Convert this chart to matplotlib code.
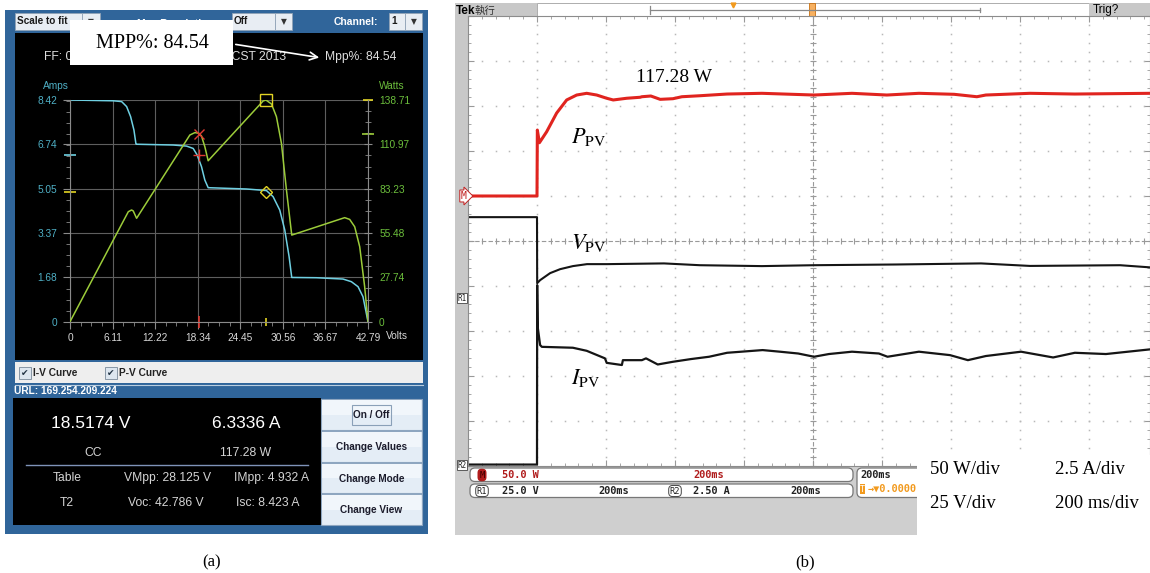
import numpy as np
import matplotlib.pyplot as plt
from matplotlib.patches import Rectangle, FancyBboxPatch
from matplotlib.ticker import AutoMinorLocator, MultipleLocator
from matplotlib.transforms import blended_transform_factory

plt.rcParams['font.family'] = ['Liberation Sans', 'DejaVu Sans']
plt.rcParams['mathtext.fontset'] = 'stix'

W, H = 1150, 573

# ---------------- panel (a): simulator screen values ----------------
iv_volts = [0, 6.22, 7.41, 8.13, 8.70, 9.18, 9.47, 9.56, 14.82, 16.73, 17.69, 18.26, 18.88, 19.36,
            19.84, 25.34, 28.21, 29.16, 30.12, 30.84, 31.46, 31.84, 35.38, 39.2, 40.4, 41.36, 42.07, 42.79]
iv_amps = [8.42, 8.39, 8.36, 8.17, 7.79, 7.28, 6.75, 6.74, 6.71, 6.67, 6.58, 6.33, 5.89, 5.38,
           5.09, 5.04, 4.98, 4.75, 4.24, 3.48, 2.47, 1.68, 1.67, 1.62, 1.52, 1.33, 0.95, 0]
pv_volts = [0, 8.37, 8.84, 9.08, 9.56, 17.21, 17.93, 18.5, 18.88, 19.36, 19.84, 27.73, 28.13,
            28.93, 29.64, 30.36, 31.08, 31.84, 39.44, 40.16, 40.88, 41.6, 42.31, 42.79]
pv_watts = [0, 68.8, 69.9, 69.3, 64.7, 116.8, 118.3, 117.9, 116.2, 109.5, 100.7, 138.1, 138.71,
            136.2, 128.3, 111.6, 82.4, 54.2, 65.1, 64.0, 59.4, 46.9, 21.9, 0]

volt_ticks = [0, 6.11, 12.22, 18.34, 24.45, 30.56, 36.67, 42.79]
amp_ticks = [0, 1.68, 3.37, 5.05, 6.74, 8.42]
watt_ticks = [0, 27.74, 55.48, 83.23, 110.97, 138.71]

v_op, i_op, p_op = 18.5174, 6.3336, 117.28
vmpp, impp, pmpp = 28.125, 4.932, 138.71
voc, isc = 42.786, 8.423
mpp_pct = 84.54

# ---------------- panel (b): scope traces ----------------
p_ms = [0, 200, 201, 207, 228, 257, 286, 315, 344, 373, 402, 421, 460, 499, 504, 530, 557, 594,
        620, 672, 751, 852, 1003, 1113, 1214, 1307, 1409, 1475, 1501, 1629, 1759, 1977]
p_w = [0, 0, 73.3, 59.2, 71.4, 92.2, 106.7, 112.2, 114.1, 112.2, 108.6, 106.7, 108.6, 109.7, 110.3,
       111.1, 107.4, 108.1, 110.3, 111.4, 113.3, 114.1, 112.2, 114.1, 112.2, 114.1, 113.0, 110.3,
       112.2, 114.1, 113.3, 114.1]

v_ms = [0, 200, 200.5, 209, 238, 267, 304, 345, 403, 568, 672, 852, 1003, 1241, 1487, 1629, 1890, 1977]
v_volts = [45, 45, 8.3, 10, 13.9, 16.1, 17.8, 18.9, 18.9, 19.3, 18.3, 17.8, 18.3, 18.7, 19.3, 17.9, 18.3, 17.1]

i_ms = [0, 200, 200.5, 202, 209, 214, 304, 344, 397, 402, 446, 449, 504, 516, 550, 594, 646, 699,
        751, 854, 904, 957, 1003, 1046, 1113, 1191, 1216, 1307, 1397, 1449, 1501, 1603, 1696, 1759, 1849, 1977]
i_amps = [0.03, 0.03, 10.0, 7.68, 6.67, 6.57, 6.52, 6.35, 5.93, 5.68, 5.56, 5.83, 5.83, 5.93, 5.59,
          5.74, 5.89, 6.02, 6.24, 6.39, 6.30, 6.20, 6.02, 6.17, 6.30, 6.20, 6.02, 6.30, 6.11, 5.83,
          6.06, 6.30, 5.98, 6.24, 6.17, 6.43]

ms_per_div, w_per_div, v_per_div, a_per_div = 200, 50.0, 25.0, 2.5
m_pos, r1_pos, r2_pos = 1.0, -1.27, -4.98   # channel ground markers (divisions)

cyan = '#6fd0e2'
green = '#9ccc3a'
yel = '#e2d424'
red_a = '#e23a32'
blue = '#30659a'


def box(ax, x0, y0, x1, y1, **kw):
    ax.add_patch(Rectangle((x0, y0), x1 - x0, y1 - y0, **kw))


fig = plt.figure(figsize=(W / 100, H / 100), dpi=100)
bg = fig.add_axes([0, 0, 1, 1])
bg.set_xlim(0, W)
bg.set_ylim(H, 0)
bg.axis('off')

# ---- simulator window
box(bg, 5, 10, 428, 534, fc=blue, ec='none')
box(bg, 15, 33, 423, 360, fc='black', ec='none')
box(bg, 15, 362, 423, 383, fc='#eeeeee', ec='none')
bg.plot([15, 423], [384.5, 384.5], color='#b8cde0', lw=0.8)
box(bg, 13, 398, 321, 525, fc='black', ec='none')


def combo(x0, x1, xa, label):
    box(bg, x0, 13, x1, 30, fc='#e8edf3', ec='#90a2b6', lw=0.6)
    box(bg, x1, 13, xa, 30, fc='#e8edf3', ec='#90a2b6', lw=0.6)
    bg.text(x0 + 2, 21.5, label, fontsize=7.2, fontweight='bold', va='center', color='#1a1a1a')
    bg.text((x1 + xa) / 2, 21.5, '\u25bc', fontsize=5.5, ha='center', va='center',
            color='#333333', family='DejaVu Sans')


combo(15, 82, 100, 'Scale to fit')
combo(232, 275, 292, 'Off')
combo(389, 405, 422, '1')
bg.text(137, 24, 'Max Resolution:', fontsize=7.5, fontweight='bold', color='white', va='center')
bg.text(378, 22, 'Channel:', fontsize=7.5, fontweight='bold', color='white', va='center', ha='right')

bg.text(44, 57, 'FF: 0.71', color='#dddddd', fontsize=8.7, va='center')
bg.text(286, 57, 'Mon Jun 03 10:21:43 CST 2013', color='#dddddd', fontsize=8.7, va='center', ha='right')
bg.text(325, 57, f'Mpp%: {mpp_pct:.2f}', color='#dddddd', fontsize=8.7, va='center')
bg.annotate('', xy=(322, 58), xytext=(233, 44),
            arrowprops=dict(arrowstyle='->', color='white', lw=1.2, mutation_scale=14))
bg.text(56, 86, 'Amps', color='#4fb0c6', fontsize=7.3, ha='center', va='center')
bg.text(392, 86, 'Watts', color='#6cbf3c', fontsize=7.3, ha='center', va='center')
bg.text(386, 336, 'Volts', color='#d8d8d8', fontsize=7.3, va='center')

for x0, lab in [(19, 'I-V Curve'), (105, 'P-V Curve')]:
    box(bg, x0, 367, x0 + 12, 379, fc='#dde6ef', ec='#7a8a9a', lw=0.6)
    bg.text(x0 + 6, 373.5, '\u2714', fontsize=6.5, ha='center', va='center', color='#223344',
            family='DejaVu Sans')
    bg.text(x0 + 14, 373, lab, fontsize=7.3, fontweight='bold', va='center', color='#222222')

bg.text(14, 391, 'URL: 169.254.209.224', color='white', fontweight='bold', fontsize=7.3, va='center')

bg.text(91, 424, f'{v_op:.4f} V', color='white', fontsize=12.5, ha='center', va='center')
bg.text(246, 424, f'{i_op:.4f} A', color='white', fontsize=12.5, ha='center', va='center')
info = [(93, 453, 'CC'), (246, 453, f'{p_op:.2f} W'),
        (67, 478, 'Table'), (168, 478, f'VMpp: {vmpp:.3f} V'), (272, 478, f'IMpp: {impp:.3f} A'),
        (67, 503, 'T2'), (166, 503, f'Voc: {voc:.3f} V'), (268, 503, f'Isc: {isc:.3f} A')]
for x, y, s in info:
    bg.text(x, y, s, color='#d4d4d4', fontsize=8.7, ha='center', va='center')
bg.plot([26, 308], [465, 465], color='#7f93b8', lw=1)

for y0, y1, lab in [(399, 430, 'On / Off'), (431, 462, 'Change Values'),
                    (463, 493, 'Change Mode'), (494, 525, 'Change View')]:
    box(bg, 321, y0, 422, y1, fc='#e4edf6', ec='#8ea6c0', lw=0.8)
    box(bg, 322, y0 + 1, 421, (y0 + y1) / 2, fc='#f1f6fb', ec='none')
    bg.text(371.5, (y0 + y1) / 2 + 0.5, lab, fontsize=7.2, fontweight='bold', ha='center',
            va='center', color='#1c1c2c')
box(bg, 352, 405, 391, 425, fc='none', ec='#8aa0b8', lw=0.8)

# ---- scope frame
box(bg, 455, 3, 468, 535, fc='#c8c8c8', ec='none')
box(bg, 455, 466, 1150, 535, fc='#cfcfcf', ec='none')
box(bg, 455, 3, 537, 17, fc='#c8c8c8', ec='none')
box(bg, 537, 3, 1089, 17, fc='white', ec='#a0a0a0', lw=0.6)
box(bg, 1089, 3, 1150, 17, fc='#c8c8c8', ec='none')
bg.text(456, 10.5, 'Tek', fontweight='bold', fontsize=8.5, va='center')
bg.text(475, 10.5, '\u57f7\u884c', family=['Noto Sans CJK TC', 'DejaVu Sans'], fontsize=7.5,
        va='center', color='#333333')
bg.plot([650, 980], [10, 10], color='#888888', lw=0.9)
bg.plot([650, 650], [6, 14], color='#888888', lw=0.9)
bg.plot([980, 980], [8, 12], color='#888888', lw=0.9)
bg.plot(733, 5, marker='v', color='#f29a1e', ms=3.5)
box(bg, 809, 3, 815, 17, fc='#f7b060', ec='#c87010', lw=0.6)
bg.plot(812, 19, marker='v', color='#f29a1e', ms=3.5)
bg.text(1093, 10.5, 'Trig?', fontsize=8.5, va='center')
box(bg, 1145, 20, 1150, 30, fc='#f29a1e', ec='none')

mono = 'DejaVu Sans Mono'
rd = dict(fontsize=7.4, va='center', family=mono, fontweight='bold')
for y0 in (468, 484):
    bg.add_patch(FancyBboxPatch((470, y0), 383, 13.5, boxstyle='round,pad=0,rounding_size=5',
                                fc='white', ec='#777777', lw=0.9))
bg.add_patch(FancyBboxPatch((857, 468), 110, 29.5, boxstyle='round,pad=0,rounding_size=5',
                            fc='white', ec='#777777', lw=0.9))
bg.text(482, 475, 'M', color='#3a0000', ha='center', fontsize=6.5, va='center', family=mono,
        bbox=dict(boxstyle='round,pad=0.2,rounding_size=0.45', fc='#b01c1c', ec='none'))
bg.text(502, 475, f'{w_per_div:.1f} W', color='#b01c1c', **rd)
bg.text(693, 475, f'{ms_per_div}ms', color='#b01c1c', **rd)
bg.text(482, 491, 'R1', color='#222222', ha='center', fontsize=6.3, va='center', family=mono,
        bbox=dict(boxstyle='round,pad=0.12,rounding_size=0.45', fc='white', ec='#444444', lw=0.7))
bg.text(502, 491, f'{v_per_div:.1f} V', color='#222222', **rd)
bg.text(598, 491, f'{ms_per_div}ms', color='#222222', **rd)
bg.text(675, 491, 'R2', color='#222222', ha='center', fontsize=6.3, va='center', family=mono,
        bbox=dict(boxstyle='round,pad=0.12,rounding_size=0.45', fc='white', ec='#444444', lw=0.7))
bg.text(693, 491, f'{a_per_div:.2f} A', color='#222222', **rd)
bg.text(790, 491, f'{ms_per_div}ms', color='#222222', **rd)
bg.text(860, 475, f'{ms_per_div}ms', color='#222222', **rd)
bg.text(860, 489, 'T', fontsize=6, color='white', va='center', family=mono,
        bbox=dict(boxstyle='square,pad=0.05', fc='#f29a1e', ec='none'))
bg.text(868, 489, '\u2192\u25bc0.0000', color='#f29a1e', **rd)

# ---- panel (a) curves
ax_iv = fig.add_axes([70 / W, 1 - 321.7 / H, 298 / W, 221.7 / H])
ax_iv.patch.set_visible(False)
ax_iv.set_xlim(0, volt_ticks[-1])
ax_iv.set_ylim(0, amp_ticks[-1])
ax_iv.set_xticks(volt_ticks, [f'{v:g}' for v in volt_ticks])
ax_iv.set_yticks(amp_ticks, [f'{v:g}' for v in amp_ticks])
ax_iv.xaxis.set_minor_locator(AutoMinorLocator(4))
ax_iv.yaxis.set_minor_locator(AutoMinorLocator(4))
ax_iv.grid(True, color='#5e5e5e', lw=0.8)
for s in ['top', 'right']:
    ax_iv.spines[s].set_visible(False)
for s in ['left', 'bottom']:
    ax_iv.spines[s].set_color('#8a8a8a')
ax_iv.tick_params(axis='y', which='both', direction='out', color='#8a8a8a', labelcolor='#4fb0c6',
                  labelsize=7.3, pad=4)
ax_iv.tick_params(axis='x', which='both', direction='out', color='#8a8a8a', labelcolor='#d8d8d8',
                  labelsize=7.3, pad=3)
ax_iv.tick_params(which='major', length=5)
ax_iv.tick_params(which='minor', length=3)

ax_p = ax_iv.twinx()
ax_p.set_ylim(0, watt_ticks[-1])
ax_p.set_yticks(watt_ticks, [f'{v:g}' for v in watt_ticks])
ax_p.yaxis.set_minor_locator(AutoMinorLocator(4))
for s in ['top', 'left', 'bottom']:
    ax_p.spines[s].set_visible(False)
ax_p.spines['right'].set_color('#8a8a8a')
ax_p.tick_params(axis='y', which='both', direction='inout', color='#8a8a8a', labelcolor='#6cbf3c',
                 labelsize=7.3, pad=5)
ax_p.tick_params(which='major', length=6)
ax_p.tick_params(which='minor', length=4)

ax_iv.plot(iv_volts, iv_amps, color=cyan, lw=1.1)
ax_p.plot(pv_volts, pv_watts, color=green, lw=1.1)
ax_p.plot(v_op, p_op, marker='x', color=red_a, ms=7, mew=1)
ax_iv.plot(v_op, i_op, marker='+', color=red_a, ms=9, mew=1)
ax_p.plot(vmpp, pmpp, marker='s', mfc='none', mec=yel, ms=8, mew=1, clip_on=False)
ax_iv.plot(vmpp, impp, marker='D', mfc='none', mec=yel, ms=6.5, mew=1)
ax_iv.plot(0, i_op, marker='_', color=cyan, ms=9, mew=1.2, clip_on=False)
ax_iv.plot(0, impp, marker='_', color=yel, ms=8, mew=1.2, clip_on=False)
ax_p.plot(volt_ticks[-1], pmpp, marker='_', color=yel, ms=7, mew=1.2, clip_on=False)
ax_p.plot(volt_ticks[-1], p_op, marker='_', color=green, ms=8, mew=1.2, clip_on=False)
ax_iv.plot(v_op, 0, marker='|', color=red_a, ms=9, mew=1.2, clip_on=False)
ax_iv.plot(vmpp, 0, marker='|', color=yel, ms=6, mew=1.2, clip_on=False)

# ---- panel (b) oscilloscope
ax_s = fig.add_axes([468 / W, 1 - 466 / H, 682 / W, 450 / H])
ax_s.set_facecolor('white')
ax_s.set_xlim(0, 682 / 69)
ax_s.set_ylim(-5, 5)
ax_s.xaxis.set_major_locator(MultipleLocator(1))
ax_s.yaxis.set_major_locator(MultipleLocator(1))
ax_s.xaxis.set_minor_locator(MultipleLocator(0.2))
ax_s.yaxis.set_minor_locator(MultipleLocator(0.2))
ax_s.tick_params(which='both', direction='in', top=True, right=True, color='#999999',
                 labelbottom=False, labelleft=False)
ax_s.tick_params(which='major', length=4)
ax_s.tick_params(which='minor', length=2.5)
for s in ax_s.spines.values():
    s.set_color('#8c8c8c')
    s.set_linewidth(0.8)

minor_x = np.arange(0, 9.9, 0.2)
minor_y = np.arange(-5, 5.01, 0.2)
for xi in range(1, 10):
    if xi != 5:
        ax_s.plot([xi] * len(minor_y), minor_y, ls='none', marker='s', ms=1.1, color='#b8b8b8', mew=0)
for yi in range(-4, 5):
    if yi != 0:
        ax_s.plot(minor_x, [yi] * len(minor_x), ls='none', marker='s', ms=1.1, color='#b8b8b8', mew=0)
ax_s.axhline(0, color='#9a9a9a', lw=0.8, ls=(0, (4, 2)))
ax_s.axvline(5, color='#9a9a9a', lw=0.8, ls=(0, (4, 2)))
ax_s.plot(minor_x, [0] * len(minor_x), ls='none', marker='|', ms=4, color='#9a9a9a', mew=0.8)
ax_s.plot([5] * len(minor_y), minor_y, ls='none', marker='_', ms=4, color='#9a9a9a', mew=0.8)

ax_s.plot(np.array(p_ms) / ms_per_div, m_pos + np.array(p_w) / w_per_div, color='#e0241f', lw=2.2)
ax_s.plot(np.array(v_ms) / ms_per_div, r1_pos + np.array(v_volts) / v_per_div, color='#151515', lw=1.5)
ax_s.plot(np.array(i_ms) / ms_per_div, r2_pos + np.array(i_amps) / a_per_div, color='#151515', lw=1.6)

trans = blended_transform_factory(ax_s.transAxes, ax_s.transData)
ax_s.text(-0.002, m_pos, 'M', transform=trans, ha='right', va='center', color='#c02020', fontsize=7,
          family=mono, clip_on=False,
          bbox=dict(boxstyle='rarrow,pad=0.1', fc='white', ec='#c02020', lw=0.7))
ax_s.text(-0.002, r1_pos, 'R1', transform=trans, ha='right', va='center', color='#222222', fontsize=5.5,
          family=mono, clip_on=False,
          bbox=dict(boxstyle='square,pad=0.08', fc='white', ec='#444444', lw=0.6))
ax_s.text(-0.002, r2_pos, 'R2', transform=trans, ha='right', va='center', color='#222222', fontsize=5.5,
          family=mono, clip_on=False,
          bbox=dict(boxstyle='square,pad=0.08', fc='white', ec='#444444', lw=0.6))

# ---- annotations placed on top
ov = fig.add_axes([0, 0, 1, 1])
ov.set_xlim(0, W)
ov.set_ylim(H, 0)
ov.axis('off')
ov.patch.set_visible(False)
serif = 'Liberation Serif'
box(ov, 70, 20, 233, 65, fc='white', ec='none')
ov.text(152, 43, f'MPP%: {mpp_pct:.2f}', family=serif, fontsize=14.5, ha='center', va='center')
ov.text(636, 77, f'{p_op:.2f} W', family=serif, fontsize=14, va='center')
ov.text(571, 137, r'$P_{\mathrm{PV}}$', fontsize=16, va='center')
ov.text(571, 243, r'$V_{\mathrm{PV}}$', fontsize=16, va='center')
ov.text(571, 378, r'$I_{\mathrm{PV}}$', fontsize=16, va='center')
box(ov, 917, 455, 1150, 535, fc='white', ec='none')
ov.text(930, 470, f'{w_per_div:g} W/div', family=serif, fontsize=13.5, va='center')
ov.text(1055, 470, f'{a_per_div:g} A/div', family=serif, fontsize=13.5, va='center')
ov.text(930, 503, f'{v_per_div:g} V/div', family=serif, fontsize=13.5, va='center')
ov.text(1055, 503, f'{ms_per_div} ms/div', family=serif, fontsize=13.5, va='center')
ov.text(212, 562, '(a)', family=serif, fontsize=12, ha='center', va='center')
ov.text(805, 562, '(b)', family=serif, fontsize=12, ha='center', va='center')

fig.savefig('out.png', dpi=100, facecolor='white')
